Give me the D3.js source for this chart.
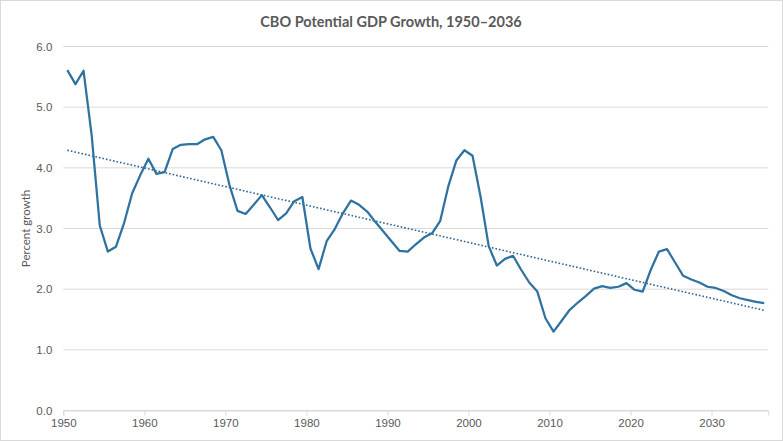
<!DOCTYPE html>
<html>
<head>
<meta charset="utf-8">
<script src="https://cdnjs.cloudflare.com/ajax/libs/d3/7.8.5/d3.min.js"></script>
<style>
  body { margin: 0; background: #fff; }
  svg { display: block; font-family: Lato, "Open Sans", sans-serif; }
</style>
</head>
<body>
<svg id="drawing_region"></svg>
<script>
// CBO potential GDP growth, percent, one value per year 1950-2036
const years = d3.range(1950, 2037);
const growth = [
  5.61, 5.38, 5.60, 4.54, 3.05, 2.62, 2.70, 3.09, 3.58, 3.88,
  4.15, 3.90, 3.93, 4.31, 4.38, 4.39, 4.39, 4.47, 4.51, 4.29,
  3.72, 3.29, 3.24, 3.39, 3.55, 3.35, 3.14, 3.25, 3.45, 3.52,
  2.67, 2.33, 2.79, 2.99, 3.25, 3.46, 3.39, 3.28, 3.11, 2.95,
  2.79, 2.63, 2.62, 2.74, 2.85, 2.92, 3.12, 3.69, 4.12, 4.29,
  4.20, 3.52, 2.71, 2.39, 2.50, 2.55, 2.32, 2.11, 1.96, 1.52,
  1.30, 1.48, 1.66, 1.78, 1.89, 2.01, 2.05, 2.02, 2.04, 2.10,
  1.99, 1.96, 2.32, 2.62, 2.66, 2.44, 2.22, 2.16, 2.11, 2.04,
  2.02, 1.97, 1.90, 1.85, 1.82, 1.79, 1.77
];
const yTicks = [0, 1, 2, 3, 4, 5, 6];
const xTicks = d3.range(1950, 2031, 10);
const title = "CBO Potential GDP Growth, 1950\u20132036";
const yLabel = "Percent growth";

const config = {
  width: 783,
  height: 441,
  margin: {top: 46.5, right: 14.7, bottom: 30.5, left: 63.3}
};

const data = years.map((y, i) => ({year: y, value: growth[i]}));

const svg = d3.select("#drawing_region")
  .attr("width", config.width)
  .attr("height", config.height);

// outer chart border
svg.append("rect")
  .attr("x", 0.5).attr("y", 0.5)
  .attr("width", config.width - 1).attr("height", config.height - 1)
  .attr("fill", "#fff").attr("stroke", "#d9d9d9");

const innerW = config.width - config.margin.left - config.margin.right;
const innerH = config.height - config.margin.top - config.margin.bottom;

const chart = svg.append("g")
  .attr("transform", `translate(${config.margin.left}, ${config.margin.top})`);

// date axis: each year's value sits mid-year
const x = d3.scaleLinear().domain([1950, 2037]).range([0, innerW]);
const y = d3.scaleLinear().domain([0, 6]).range([innerH, 0]);
const xPos = d => x(d.year + 0.5);

// gridlines
chart.append("g")
  .selectAll("line")
  .data(yTicks)
  .join("line")
  .attr("x1", 0).attr("x2", innerW)
  .attr("y1", d => y(d)).attr("y2", d => y(d))
  .attr("stroke", "#d9d9d9").attr("stroke-width", 1);

// y axis labels
const yAxis = chart.append("g")
  .call(d3.axisLeft(y).tickValues(yTicks).tickFormat(d3.format(".1f")).tickSize(0).tickPadding(11));
yAxis.select(".domain").remove();
yAxis.selectAll("text")
  .attr("fill", "#595959").style("font-size", "11.5px");

// x axis
const xAxis = chart.append("g")
  .attr("transform", `translate(0, ${innerH})`)
  .call(d3.axisBottom(x).tickValues(xTicks).tickFormat(d3.format("d")).tickSize(5).tickPadding(3));
xAxis.select(".domain").attr("stroke", "#d9d9d9");
xAxis.selectAll(".tick line").attr("stroke", "#d9d9d9");
xAxis.selectAll("text")
  .attr("fill", "#595959").style("font-size", "11.5px");

// linear trend (least squares)
const mx = d3.mean(data, d => d.year);
const my = d3.mean(data, d => d.value);
const slope = d3.sum(data, d => (d.year - mx) * (d.value - my)) /
              d3.sum(data, d => (d.year - mx) * (d.year - mx));
const trend = [data[0], data[data.length - 1]].map(d => ({
  year: d.year, value: my + slope * (d.year - mx)
}));

chart.append("path")
  .datum(trend)
  .attr("d", d3.line().x(xPos).y(d => y(d.value)))
  .attr("fill", "none")
  .attr("stroke", "#2e6594")
  .attr("stroke-width", 1.6)
  .attr("stroke-dasharray", "1.6,2");

// series line
chart.append("path")
  .datum(data)
  .attr("d", d3.line().x(xPos).y(d => y(d.value)))
  .attr("fill", "none")
  .attr("stroke", "#2e72a0")
  .attr("stroke-width", 2.25)
  .attr("stroke-linejoin", "round");

// title
svg.append("text")
  .attr("x", 391).attr("y", 27)
  .attr("text-anchor", "middle")
  .attr("fill", "#595959")
  .style("font-size", "14.5px").style("font-weight", "bold")
  .text(title);

// y axis title
svg.append("text")
  .attr("transform", `translate(30, ${config.margin.top + innerH / 2}) rotate(-90)`)
  .attr("text-anchor", "middle")
  .attr("fill", "#595959")
  .style("font-size", "11.5px")
  .text(yLabel);
</script>
</body>
</html>
